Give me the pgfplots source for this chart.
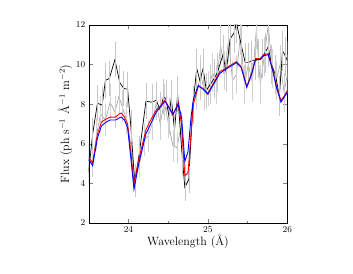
\documentclass[border=0pt]{standalone}
\usepackage{pgfplots}
\pgfplotsset{compat=1.18}
\begin{document}
\begin{tikzpicture}
\path[use as bounding box] (-88.7pt,-50pt) rectangle (264.3pt,223pt);
\begin{axis}[
  at={(0,0)}, anchor=south west,
  scale only axis, width=198.6pt, height=198pt,
  xmin=23.5, xmax=26, ymin=2, ymax=12,
  xtick={24,25,26}, minor xtick={23.5,24.5,25.5},
  ytick={2,4,6,8,10,12},
  tick align=inside, tick pos=both,
  major tick length=4pt, minor tick length=2pt,
  tick label style={font=\small},
  xlabel={Wavelength (\AA)},
  ylabel={Flux (ph s$^{-1}$ \AA$^{-1}$ m$^{-2}$)},
  label style={font=\large},
  xlabel style={yshift=4pt},
  ylabel style={yshift=-3pt},
  clip=true,
]
% gray series with error bars
\addplot[gray!75, line width=0.6pt, error bars/.cd, y dir=both, y explicit, error mark=none, error bar style={gray!35, line width=0.5pt}]
table[x=x, y=y, y error=e] {
x y e
23.50 5.2 0.8
23.55 5.0 0.7
23.60 6.5 0.8
23.65 7.5 0.9
23.71 7.2 0.8
23.77 8.1 0.9
23.83 7.6 0.8
23.88 8.4 0.9
23.92 7.9 0.8
23.97 7.3 0.8
24.03 6.0 0.7
24.08 4.3 0.7
24.14 5.0 0.7
24.20 6.2 0.8
24.25 6.4 0.8
24.30 7.0 0.8
24.35 8.1 0.9
24.40 7.0 0.8
24.45 8.1 0.9
24.50 7.1 0.8
24.56 5.9 0.8
24.61 5.8 0.8
24.66 6.8 0.8
24.71 4.3 0.7
24.76 4.7 0.7
24.81 8.0 0.9
24.86 8.6 0.9
24.91 9.5 1.0
24.96 8.6 0.9
25.01 8.8 0.9
25.06 9.6 1.0
25.11 9.0 1.0
25.16 11.0 1.0
25.21 9.7 1.0
25.26 11.2 1.0
25.31 9.2 1.0
25.36 9.5 1.0
25.41 11.5 1.0
25.46 9.0 1.0
25.51 10.0 1.0
25.56 9.1 1.0
25.61 11.8 1.0
25.66 9.0 1.0
25.71 10.4 1.0
25.76 12.0 1.0
25.81 9.8 1.0
25.86 9.2 1.0
25.91 10.0 1.0
25.96 8.6 1.0
26.00 9.5 1.0
};
% black series with error bars
\addplot[black, line width=0.7pt, error bars/.cd, y dir=both, y explicit, error mark=none, error bar style={gray!45, line width=0.5pt}]
table[x=x, y=y, y error=e] {
x y e
23.50 4.6 0.7
23.55 6.5 0.8
23.61 8.05 0.9
23.67 7.95 0.9
23.71 9.2 0.9
23.76 9.3 0.9
23.83 10.25 0.9
23.89 9.1 0.9
23.94 8.8 0.9
23.99 8.75 0.9
24.03 6.9 0.8
24.08 4.0 0.7
24.14 5.6 0.8
24.22 8.15 0.9
24.30 8.1 0.9
24.35 8.2 0.9
24.40 7.7 0.9
24.44 8.35 0.9
24.47 8.3 0.9
24.51 7.4 0.9
24.54 8.3 0.9
24.58 6.7 0.8
24.62 8.5 0.9
24.68 5.2 0.8
24.71 3.8 0.7
24.76 4.2 0.7
24.81 7.9 0.9
24.86 9.8 1.0
24.90 9.2 1.0
24.94 9.8 1.0
24.98 8.7 0.9
25.03 9.0 1.0
25.08 9.3 1.0
25.12 9.6 1.0
25.19 10.5 1.0
25.23 9.6 1.0
25.28 11.3 1.0
25.33 11.6 1.0
25.36 12.1 1.0
25.42 11.0 1.0
25.47 10.1 1.0
25.51 10.1 1.0
25.55 10.2 1.0
25.60 10.2 1.0
25.64 10.3 1.0
25.68 10.3 1.0
25.72 10.6 1.0
25.76 10.9 1.0
25.80 10.0 1.0
25.85 9.5 1.0
25.90 8.4 1.0
25.94 10.7 1.0
25.98 10.4 1.0
26.00 10.2 1.0
};
% red model
\addplot[red, line width=0.9pt] coordinates {
(23.50,5.3)(23.55,5.05)(23.61,6.5)(23.66,7.1)(23.72,7.25)(23.77,7.35)(23.84,7.35)(23.88,7.5)(23.91,7.55)(23.95,7.35)(23.99,7.0)(24.03,5.6)(24.07,4.0)(24.13,5.2)(24.22,6.7)(24.28,7.2)(24.35,7.7)(24.41,7.95)(24.46,8.2)(24.50,7.9)(24.56,7.45)(24.63,8.1)(24.67,6.9)(24.71,4.4)(24.75,4.5)(24.79,6.6)(24.82,8.05)(24.88,8.9)(24.94,8.8)(25.00,8.55)(25.07,9.05)(25.15,9.65)(25.20,9.75)(25.28,9.95)(25.36,10.15)(25.42,9.9)(25.49,8.9)(25.55,9.55)(25.60,10.3)(25.66,10.3)(25.70,10.5)(25.76,10.55)(25.82,9.7)(25.86,8.95)(25.92,8.2)(25.96,8.4)(26.0,8.7)
};
% blue model
\addplot[blue, line width=0.9pt] coordinates {
(23.50,5.2)(23.55,4.9)(23.61,6.3)(23.66,6.9)(23.72,7.1)(23.77,7.2)(23.84,7.2)(23.88,7.3)(23.91,7.35)(23.95,7.2)(23.99,6.8)(24.03,5.3)(24.07,3.7)(24.13,5.0)(24.22,6.5)(24.28,7.0)(24.35,7.6)(24.41,7.9)(24.46,8.15)(24.50,7.9)(24.56,7.5)(24.63,8.0)(24.67,7.3)(24.71,5.1)(24.75,5.6)(24.79,7.4)(24.82,8.3)(24.88,8.95)(24.94,8.75)(25.00,8.5)(25.07,9.0)(25.15,9.55)(25.20,9.7)(25.28,9.9)(25.36,10.1)(25.42,9.85)(25.49,8.85)(25.55,9.5)(25.60,10.25)(25.66,10.25)(25.70,10.45)(25.76,10.5)(25.82,9.65)(25.86,8.9)(25.92,8.1)(25.96,8.35)(26.0,8.6)
};
\end{axis}
\end{tikzpicture}
\end{document}
